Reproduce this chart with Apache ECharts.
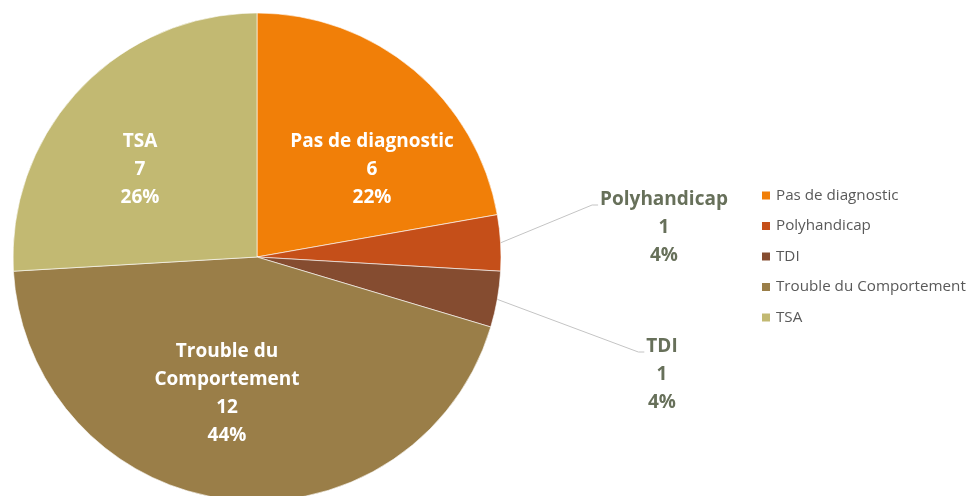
<!DOCTYPE html>
<html>
<head>
<meta charset="utf-8">
<script src="https://cdn.jsdelivr.net/npm/echarts@6/dist/echarts.min.js"></script>
<style>
  html, body { margin: 0; padding: 0; background: #fff; }
  #chart { width: 974px; height: 496px; }
</style>
</head>
<body>
<div id="chart"></div>
<script>
// categories and counts
const categories = ['Pas de diagnostic', 'Polyhandicap', 'TDI', 'Trouble du Comportement', 'TSA'];
const counts = [6, 1, 1, 12, 7];
const colors = ['#f17f08', '#c54f19', '#854c30', '#9a7e48', '#c2b972'];

// label placement: centre x, centre y of the text block (inside) / name line (outside)
const labelSpots = [
  { x: 372, y: 170, inside: true },
  { x: 664, y: 200, inside: false },
  { x: 662, y: 347, inside: false },
  { x: 227, y: 394, inside: true },
  { x: 140, y: 170, inside: true }
];

const chart = echarts.init(document.getElementById('chart'));

const insideLabel = {
  position: 'inside',
  color: '#fff',
  fontFamily: 'Open Sans',
  fontWeight: 'bold',
  fontSize: 19,
  lineHeight: 28,
  align: 'center'
};
const outsideLabel = {
  position: 'outside',
  color: '#67705a',
  fontFamily: 'Open Sans',
  fontWeight: 'bold',
  fontSize: 19,
  lineHeight: 28,
  align: 'center'
};

chart.setOption({
  animation: false,
  legend: {
    orient: 'vertical',
    left: 755,
    top: 181,
    itemWidth: 10,
    itemHeight: 10,
    itemGap: 11.5,
    icon: 'rect',
    textStyle: { fontFamily: 'Open Sans', fontSize: 15.2, color: '#595959', lineHeight: 19 },
    data: categories
  },
  series: [{
    type: 'pie',
    center: [257, 257],
    radius: 244,
    startAngle: 90,
    clockwise: true,
    percentPrecision: 0,
    itemStyle: { borderColor: '#fff', borderWidth: 0.6 },
    labelLine: { show: true, length: 40, length2: 10, lineStyle: { color: '#c4c4c4', width: 1 } },
    emphasis: { disabled: true },
    label: {
      formatter: function (p) {
        const name = p.name === 'Trouble du Comportement' ? 'Trouble du\nComportement' : p.name;
        return name + '\n' + p.value + '\n' + p.percent + '%';
      }
    },
    labelLayout: function (p) {
      const s = labelSpots[p.dataIndex];
      if (s.inside) {
        return { x: s.x, y: s.y, align: 'center', verticalAlign: 'middle' };
      }
      const w = p.labelRect.width;
      const left = s.x - w / 2;
      const a = p.labelLinePoints ? p.labelLinePoints[0] : [0, 0];
      return {
        x: s.x,
        y: s.y - 14,
        align: 'center',
        verticalAlign: 'top',
        labelLinePoints: [a, [left - 8, s.y + 5], [left - 2, s.y + 5]]
      };
    },
    data: categories.map(function (c, i) {
      return {
        name: c,
        value: counts[i],
        itemStyle: { color: colors[i] },
        label: labelSpots[i].inside ? insideLabel : outsideLabel,
        labelLine: { show: !labelSpots[i].inside }
      };
    })
  }]
});
</script>
</body>
</html>
